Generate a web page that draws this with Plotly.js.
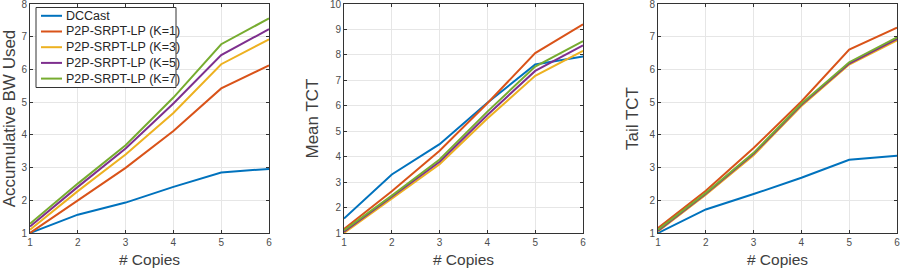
<!DOCTYPE html>
<html><head><meta charset="utf-8">
<script src="https://cdn.plot.ly/plotly-3.0.1.min.js"></script>
<style>body{margin:0;padding:0;background:#fff}#plot{width:900px;height:269px}</style>
</head><body><div id="plot"></div>
<script>
const copies = [1, 2, 3, 4, 5, 6];
const seriesNames = ["DCCast", "P2P-SRPT-LP (K=1)", "P2P-SRPT-LP (K=3)", "P2P-SRPT-LP (K=5)", "P2P-SRPT-LP (K=7)"];
const colors = ["#0072BD", "#D95319", "#EDB120", "#7E2F8E", "#77AC30"];

// Panel 1: Accumulative BW Used
const bwDCCast = [1.0, 1.56, 1.93, 2.41, 2.85, 2.96];
const bwK1 = [1.0, 2.0, 2.99, 4.12, 5.42, 6.12];
const bwK3 = [1.1, 2.28, 3.4, 4.67, 6.16, 6.92];
const bwK5 = [1.2, 2.41, 3.58, 4.96, 6.44, 7.23];
const bwK7 = [1.28, 2.51, 3.68, 5.14, 6.77, 7.56];

// Panel 2: Mean TCT
const meanDCCast = [1.57, 3.3, 4.49, 6.12, 7.62, 7.94];
const meanK1 = [1.16, 2.64, 4.23, 6.1, 8.07, 9.2];
const meanK3 = [1.0, 2.35, 3.7, 5.5, 7.18, 8.16];
const meanK5 = [1.05, 2.42, 3.8, 5.64, 7.37, 8.37];
const meanK7 = [1.1, 2.47, 3.89, 5.77, 7.54, 8.54];

// Panel 3: Tail TCT
const tailDCCast = [1.0, 1.72, 2.19, 2.69, 3.24, 3.36];
const tailK1 = [1.15, 2.29, 3.6, 5.02, 6.61, 7.28];
const tailK3 = [1.05, 2.17, 3.38, 4.88, 6.15, 6.89];
const tailK5 = [1.07, 2.2, 3.42, 4.92, 6.18, 6.93];
const tailK7 = [1.1, 2.22, 3.45, 4.95, 6.22, 6.98];

const panels = [
  {series: [bwDCCast, bwK1, bwK3, bwK5, bwK7], ytitle: "Accumulative BW Used", yrange: [1, 8]},
  {series: [meanDCCast, meanK1, meanK3, meanK5, meanK7], ytitle: "Mean TCT", yrange: [1, 10]},
  {series: [tailDCCast, tailK1, tailK3, tailK5, tailK7], ytitle: "Tail TCT", yrange: [1, 8]}
];

const W = 900, H = 269;
const xDomains = [[30 / W, 269 / W], [344 / W, 583 / W], [658 / W, 897 / W]];
const yDomain = [(H - 233) / H, (H - 4) / H];

const traces = [];
const shapes = [];
const annotations = [];
const layout = {
  width: W, height: H,
  margin: {l: 0, r: 0, t: 0, b: 0},
  paper_bgcolor: "#fff", plot_bgcolor: "#fff",
  font: {family: "Liberation Sans, Arial, sans-serif", color: "#404040"},
  showlegend: false,
  shapes: shapes, annotations: annotations
};

panels.forEach((p, i) => {
  const xa = i === 0 ? "x" : "x" + (i + 1);
  const ya = i === 0 ? "y" : "y" + (i + 1);
  p.series.forEach((vals, j) => {
    traces.push({
      x: copies, y: vals, xaxis: xa, yaxis: ya,
      type: "scatter", mode: "lines",
      name: seriesNames[j],
      line: {color: colors[j], width: 2}
    });
  });
  const axCommon = {
    showgrid: true, gridcolor: "#e6e6e6", gridwidth: 1,
    showline: true, linecolor: "#333", linewidth: 1, mirror: "ticks",
    ticks: "inside", ticklen: 3, tickcolor: "#333", zeroline: false,
    ticklabeloverflow: "allow",
    tickfont: {size: 10, color: "#4d4d4d"}
  };
  layout["xaxis" + (i === 0 ? "" : i + 1)] = Object.assign({}, axCommon, {
    domain: xDomains[i], anchor: ya, range: [1, 6], dtick: 1, tick0: 1,
    title: {text: "# Copies", font: {size: 15.5, color: "#404040"}, standoff: 7}
  });
  layout["yaxis" + (i === 0 ? "" : i + 1)] = Object.assign({}, axCommon, {
    domain: yDomain, anchor: xa, range: p.yrange, dtick: 1, tick0: 1,
    title: {text: p.ytitle, font: {size: 17, color: "#404040"}, standoff: 6}
  });
});

// Legend box (panel 1), built from seriesNames and colors
const px = v => v / W, py = v => (H - v) / H;
shapes.push({type: "rect", xref: "paper", yref: "paper",
  x0: px(36), x1: px(176), y0: py(87.5), y1: py(7.5),
  line: {color: "#333", width: 1}, fillcolor: "#fff", layer: "above"});
seriesNames.forEach((name, j) => {
  const yc = 15.8 + 15.7 * j;
  shapes.push({type: "line", xref: "paper", yref: "paper",
    x0: px(41), x1: px(62), y0: py(yc), y1: py(yc),
    line: {color: colors[j], width: 2}, layer: "above"});
  annotations.push({xref: "paper", yref: "paper", x: px(64), y: py(yc),
    xanchor: "left", yanchor: "middle", showarrow: false, text: name,
    font: {size: 12.5, color: "#262626"}});
});

Plotly.newPlot("plot", traces, layout, {displayModeBar: false, staticPlot: true});
</script></body></html>
